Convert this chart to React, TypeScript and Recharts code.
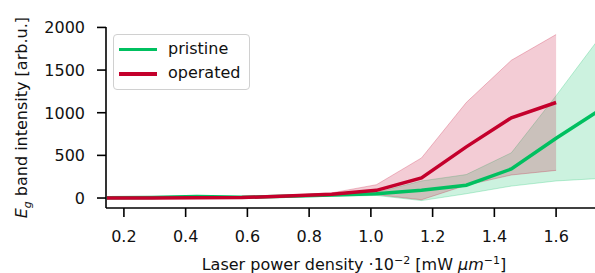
import React from "react";
import { ComposedChart, Line, Area, XAxis, YAxis } from "recharts";

const xValues = [0.145, 0.291, 0.436, 0.582, 0.727, 0.873, 1.018, 1.164, 1.309, 1.455, 1.6, 1.745];

const pristineMean = [2, 5, 18, 8, 20, 35, 50, 90, 150, 340, 700, 1040];
const pristineLow = [-5, -2, 8, 0, 10, 20, 30, -30, 50, 140, 200, 230];
const pristineHigh = [8, 12, 28, 16, 30, 50, 65, 200, 275, 530, 1200, 1900];

const operatedMean = [0, 0, 2, 5, 25, 45, 90, 235, 600, 940, 1120];
const operatedLow = [-5, -5, -3, 0, 15, 30, 40, -20, 150, 270, 324];
const operatedHigh = [5, 5, 8, 12, 35, 60, 156, 470, 1120, 1615, 1917];

const xTicks = [0.2, 0.4, 0.6, 0.8, 1.0, 1.2, 1.4, 1.6];
const yTicks = [0, 500, 1000, 1500, 2000];

const GREEN = "#00c060";
const RED = "#c4002c";
const FONT = "DejaVu Sans";

const data = xValues.map((x, i) => ({
  x,
  pMean: pristineMean[i],
  pRange: [pristineLow[i], pristineHigh[i]],
  oMean: i < operatedMean.length ? operatedMean[i] : null,
  oRange: i < operatedMean.length ? [operatedLow[i], operatedHigh[i]] : null,
}));

const XTick = (props: any) => (
  <text
    x={props.x}
    y={242}
    textAnchor="middle"
    fontFamily={FONT}
    fontSize={16}
    fill="#111"
  >
    {Number(props.payload.value).toFixed(1)}
  </text>
);

const YTick = (props: any) => (
  <text
    x={85}
    y={props.y}
    dy="0.37em"
    textAnchor="end"
    fontFamily={FONT}
    fontSize={16}
    fill="#111"
  >
    {props.payload.value}
  </text>
);

const YLabel = () => (
  <text
    x={0}
    y={0}
    transform="translate(26.5,117.7) rotate(-90)"
    textAnchor="middle"
    fontFamily={FONT}
    fontSize={16}
    fill="#111"
  >
    <tspan fontStyle="italic">E</tspan>
    <tspan fontStyle="italic" fontSize={11} dy={4}>g</tspan>
    <tspan dy={-4}> band intensity [arb.u.]</tspan>
  </text>
);

const XLabel = () => (
  <text x={354} y={270} textAnchor="middle" fontFamily={FONT} fontSize={16} fill="#111">
    <tspan>Laser power density ·10</tspan>
    <tspan fontSize={11} dy={-6}>−2</tspan>
    <tspan dy={6}> [mW </tspan>
    <tspan fontStyle="italic">μm</tspan>
    <tspan fontSize={11} dy={-6}>−1</tspan>
    <tspan dy={6}>]</tspan>
  </text>
);

export default function App() {
  return (
    <div style={{ position: "absolute", left: 0, top: 0, width: 595, height: 273, background: "#fff" }}>
      <ComposedChart
        width={595}
        height={273}
        data={data}
        margin={{ top: 27, right: 0, bottom: 0, left: 0 }}
      >
        <XAxis
          dataKey="x"
          type="number"
          domain={[0.142, 1.726]}
          allowDataOverflow
          ticks={xTicks}
          height={65}
          tickSize={9}
          tick={<XTick />}
          axisLine={{ stroke: "#000", strokeWidth: 1.6 }}
          tickLine={{ stroke: "#000", strokeWidth: 1.6 }}
          label={{ content: () => <XLabel /> }}
        />
        <XAxis
          xAxisId="top"
          dataKey="x"
          type="number"
          orientation="top"
          domain={[0.142, 1.726]}
          allowDataOverflow
          height={0}
          tick={false}
          tickLine={false}
          axisLine={{ stroke: "#000", strokeWidth: 1.6 }}
        />
        <YAxis
          type="number"
          domain={[-117, 2005]}
          allowDataOverflow
          ticks={yTicks}
          width={106}
          tickSize={9}
          tick={<YTick />}
          axisLine={{ stroke: "#000", strokeWidth: 1.6 }}
          tickLine={{ stroke: "#000", strokeWidth: 1.6 }}
          label={{ content: () => <YLabel /> }}
        />
        <Area
          type="linear"
          dataKey="pRange"
          fill={GREEN}
          fillOpacity={0.2}
          stroke={GREEN}
          strokeOpacity={0.25}
          strokeWidth={1}
          isAnimationActive={false}
          dot={false}
          activeDot={false}
        />
        <Area
          type="linear"
          dataKey="oRange"
          fill={RED}
          fillOpacity={0.2}
          stroke={RED}
          strokeOpacity={0.25}
          strokeWidth={1}
          isAnimationActive={false}
          dot={false}
          activeDot={false}
        />
        <Line
          type="linear"
          dataKey="pMean"
          stroke={GREEN}
          strokeWidth={3.5}
          dot={false}
          activeDot={false}
          isAnimationActive={false}
        />
        <Line
          type="linear"
          dataKey="oMean"
          stroke={RED}
          strokeWidth={3.5}
          dot={false}
          activeDot={false}
          isAnimationActive={false}
        />
      </ComposedChart>
      <div
        style={{
          position: "absolute",
          left: 113,
          top: 34,
          width: 135,
          height: 54,
          border: "1px solid #d0d0d0",
          borderRadius: 4,
          background: "rgba(255,255,255,0.8)",
          fontFamily: FONT,
          fontSize: 16,
          color: "#111",
        }}
      >
        {[
          { name: "pristine", color: GREEN, top: 14.7 },
          { name: "operated", color: RED, top: 39.2 },
        ].map((e) => (
          <div key={e.name}>
            <div
              style={{
                position: "absolute",
                left: 5,
                top: e.top - 1.75,
                width: 38,
                height: 3.5,
                background: e.color,
              }}
            />
            <div
              style={{
                position: "absolute",
                left: 54,
                top: e.top - 11,
                lineHeight: "20px",
                whiteSpace: "nowrap",
              }}
            >
              {e.name}
            </div>
          </div>
        ))}
      </div>
    </div>
  );
}
